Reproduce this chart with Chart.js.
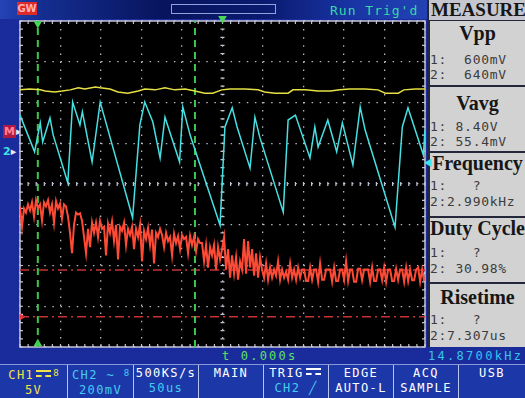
<!DOCTYPE html>
<html>
<head>
<meta charset="utf-8">
<title>scope capture</title>
<script src="https://cdn.jsdelivr.net/npm/chart.js@4.4.1/dist/chart.umd.min.js"></script>
<style>
  body{margin:0;width:525px;height:398px;overflow:hidden;position:relative;background:#1a2c9c;font-family:"DejaVu Sans Mono",monospace}
  .a{position:absolute;white-space:pre}
  #scope{position:absolute;left:0;top:0;z-index:5;pointer-events:none}
  #topbar{left:0;top:0;width:427px;height:19px;background:linear-gradient(90deg,#2444b6 0%,#142e90 10%,#08145e 38%,#0a1a6e 62%,#1834a4 82%,#2242b4 100%)}
  .box{left:430px;width:95px;background:#d2d2d2}
  .ttl{left:430px;width:95px;text-align:center;font:bold 20px "Liberation Serif",serif;line-height:22px;color:#161616}
  .val{left:430px;font-size:13px;letter-spacing:0.7px;line-height:15px;color:#3c3c3c}
  .btn{top:365px;height:33px;text-align:center;font-size:12px;letter-spacing:1.4px;line-height:15px;color:#fff;padding-top:1px;box-sizing:border-box;border-left:1px solid #b8c4f0}
  .dc{display:inline-block;width:15px;height:3px;border-top:2px solid currentColor;border-bottom:2px dashed currentColor;vertical-align:2px;margin:0 2px}
  .pr{font-size:9px;letter-spacing:0;vertical-align:3px}
</style>
</head>
<body>
<canvas id="scope" width="525" height="398"></canvas>

<div class="a" id="topbar"></div>
<div class="a" style="left:17px;top:2px;width:20px;height:13px;background:#dc2a2a;color:#ffb0b0;font:bold 10px 'DejaVu Sans';line-height:13px;text-align:center">GW</div>
<div class="a" style="left:171px;top:4px;width:103px;height:8px;border:1px solid #8ea2de"></div>
<div class="a" style="left:330px;top:3px;color:#3ad6a6;font-size:13px;letter-spacing:1px;line-height:15px">Run Trig'd</div>

<!-- left channel markers -->
<div class="a" style="left:3px;top:125px;font:bold 11px 'DejaVu Sans';line-height:13px"><span style="background:#b01a40;color:#ff8098;padding:0 1px">M</span><span style="color:#e8e8f0">▸</span></div>
<div class="a" style="left:3px;top:145px;font:bold 11px 'DejaVu Sans';line-height:13px"><span style="color:#40e0e8">2</span><span style="color:#e8e8f0">▸</span></div>

<!-- measure panel -->
<div class="a" style="left:427px;top:0;width:98px;height:347px;background:#24263a"></div>
<div class="a" style="left:429px;top:0;width:96px;height:20px;background:#c6c6ce;overflow:hidden"></div>
<div class="a ttl" style="top:-1px;left:431px;text-align:left;width:94px;overflow:hidden;font-size:19px">MEASURE</div>
<div class="a box" style="top:21px;height:64px"></div>
<div class="a box" style="top:87px;height:64px"></div>
<div class="a box" style="top:153px;height:63px"></div>
<div class="a box" style="top:218px;height:64px"></div>
<div class="a box" style="top:284px;height:63px"></div>
<div class="a ttl" style="top:22px">Vpp</div>
<div class="a val" style="top:52px">1:  600mV</div>
<div class="a val" style="top:67px">2:  640mV</div>
<div class="a ttl" style="top:92px">Vavg</div>
<div class="a val" style="top:119px">1: 8.40V</div>
<div class="a val" style="top:134px">2: 55.4mV</div>
<div class="a ttl" style="top:152px">Frequency</div>
<div class="a val" style="top:178px">1:   ?</div>
<div class="a val" style="top:194px">2:2.990kHz</div>
<div class="a ttl" style="top:217px">Duty Cycle</div>
<div class="a val" style="top:245px">1:   ?</div>
<div class="a val" style="top:261px">2: 30.98%</div>
<div class="a ttl" style="top:286px">Risetime</div>
<div class="a val" style="top:312px">1:   ?</div>
<div class="a val" style="top:328px">2:7.307us</div>

<!-- status line -->
<div class="a" style="left:222px;top:349px;color:#5ee05e;font-size:12px;letter-spacing:2.2px;line-height:14px">t 0.000s</div>
<div class="a" style="left:428px;top:349px;color:#34c4ec;font-size:12px;letter-spacing:2.3px;line-height:14px">14.8700kHz</div>

<!-- soft keys -->
<div class="a" style="left:0;top:364px;width:525px;height:34px;background:#1c38a8;border-top:1px solid #8898dc;box-sizing:border-box"></div>
<div class="a btn" style="left:0;width:67px;border-left:none;color:#f2e24a">CH1<span class="dc"></span><span class="pr">8</span><br>5V</div>
<div class="a btn" style="left:67px;width:66px;color:#44ccf2">CH2 ~ <span class="pr">8</span><br>200mV</div>
<div class="a btn" style="left:133px;width:65px">500KS/s<br><span style="color:#44ccf2">50us</span></div>
<div class="a btn" style="left:198px;width:65px">MAIN</div>
<div class="a btn" style="left:263px;width:65px">TRIG<span class="dc"></span><br><span style="color:#44ccf2">CH2 ╱</span></div>
<div class="a btn" style="left:328px;width:65px">EDGE<br>AUTO-L</div>
<div class="a btn" style="left:393px;width:65px">ACQ<br>SAMPLE</div>
<div class="a btn" style="left:458px;width:67px">USB</div>

<script>
// time base: 50 us/div, 10 div; vertical: 8 div
const timeMin = -250, timeMax = 250;
const divMin = -4, divMax = 4;

// CH1 (yellow), in divisions
const yellowT = [-250,-238,-225,-219,-207,-198,-188,-178,-170,-157,-151,-139,-129,-117,-104,-96,-83,-71,-59,-46,-34,-22,-12,-1,9,28,44,52,65,81,87,102,118,133,145,157,176,192,201,217,224,238,250];
const yellowV = [2.31,2.33,2.31,2.28,2.26,2.28,2.31,2.36,2.33,2.38,2.36,2.33,2.26,2.23,2.28,2.33,2.31,2.36,2.31,2.33,2.28,2.23,2.23,2.31,2.33,2.33,2.31,2.26,2.23,2.23,2.31,2.31,2.28,2.28,2.31,2.33,2.33,2.31,2.23,2.23,2.31,2.33,2.33];

// CH2 (cyan)
const cyanT = [-250,-232,-225,-222,-213,-209,-191,-185,-176,-173,-161,-151,-111,-102,-96,-86,-77,-71,-53,-49,-40,-3,3,12,18,34,40,46,75,81,90,108,114,118,130,141,148,161,170,176,213,222,229,248,250];
const cyanV = [1.69,0.79,1.50,1.03,1.62,1.20,0.03,2.01,1.45,1.77,0.54,2.01,-0.83,1.45,2.01,1.52,0.64,1.64,0.54,1.89,1.20,-1.01,1.40,1.87,1.40,0.39,1.64,1.15,-0.69,1.57,1.69,0.64,1.40,0.91,1.57,0.79,1.50,0.47,1.89,1.33,-1.06,1.40,1.87,0.71,1.33];

// red trace, one sample every redStep us from timeMin
const redStep = 2.47;
const redV = [
  -0.55,-1.05,-0.6,-0.7,-0.5,-0.65,
  -0.45,-0.8,-0.4,-0.6,-0.5,-0.9,-0.45,-0.55,-0.4,-0.7,-0.5,-0.95,-0.42,-0.6,-0.48,-0.85,-0.5,
  -0.55,-0.8,-1.2,-1.7,-1.0,-0.7,-0.75,-0.72,
  -0.9,-1.3,-1.7,-1.1,-1.55,-0.95,-1.2,
  -0.95,-1.3,-0.9,-1.1,-1.05,-1.75,-0.98,-1.2,-0.92,-1.4,-1.0,-1.85,-1.05,-1.15,-0.95,-1.5,-1.1,-1.25,
  -1.05,-1.6,-1.1,-1.3,-1.0,-1.9,-1.15,-1.35,-1.08,-1.5,-1.12,-1.95,-1.2,-1.3,-1.1,
  -1.25,-1.55,-1.2,-1.4,-1.3,-1.75,-1.22,-1.45,-1.28,-1.6,-1.25,-1.35,-1.3,-1.7,-1.27,-1.5,-1.3,-1.65,-1.35,-1.45,
  -1.45,-1.9,-1.5,-2.05,-1.55,-1.75,-1.5,-2.1,-1.55,-1.85,-1.6,
  -1.3,-2.1,-1.6,-2.3,-1.75,-2.2,-1.8,-2.35,-1.9,
  -2.1,-1.35,-2.2,-1.4,-2.05,-1.6,-2.25,-1.7,-2.3,-1.8,
  -2.1,-2.3,-1.95,-2.35,-2.05,-2.3,-2.1,-2.25,-1.9,-2.35,-2.1,-2.3,-2.15,-2.35,-1.95,-2.3,-2.1,-2.35,-2.05,-2.3,
  -2.1,-2.1,-2.38,-2.38,-2.05,-2.35,-2.1,-2.1,-2.4,-1.95,-2.35,-2.35,-2.1,-2.1,-2.1,-2.4,
  -2.05,-2.38,-2.38,-2.1,-2.1,-2.35,-1.9,-2.38,-2.1,-2.1,-2.4,-2.4,-2.08,-2.08,-2.36,-2.1,
  -2.1,-2.1,-2.4,-2.05,-2.38,-2.38,-2.1,-2.1,-2.36,-2.05,-2.4,-2.1,-2.1,-2.38,-2.38,-2.08,
  -2.35,-2.1,-2.1,-2.4,-2.05,-2.38,-2.1,-2.36,-2.36,-2.1,-2.05,-2.4,-2.1,-2.38
];

// cursors and markers
const cursorT = [-228, -34];
const triggerT = 0;
const trigLevel = 0.52;
const refLevels = [-2.11, -3.26];

const pts = (ts, vs) => ts.map((t, i) => ({x: t, y: vs[i]}));
const line = (data, color, extra) => Object.assign({data, borderColor: color, borderWidth: 1.5, pointRadius: 0, tension: 0, fill: false}, extra || {});
const marker = (data, color, rot) => ({data, showLine: false, pointStyle: 'triangle', pointRadius: 5, pointRotation: rot, backgroundColor: color, borderColor: color, borderWidth: 0, clip: false});

const datasets = [
  line(pts(cyanT, cyanV), '#46e0e2'),
  line(pts(yellowT, yellowV), '#e6e044'),
  line(redV.map((v, i) => ({x: timeMin + i * redStep, y: v})), '#ff4a36', {borderWidth: 2}),
  ...cursorT.map(t => line([{x: t, y: divMin}, {x: t, y: divMax}], '#3cc850', {borderWidth: 2, borderDash: [7, 5]})),
  ...refLevels.map(v => line([{x: timeMin, y: v}, {x: timeMax, y: v}], '#c83232', {borderDash: [9, 4, 2, 4]})),
  marker([{x: cursorT[0], y: 3.94}, {x: triggerT, y: 4.06}], '#48d858', 180),
  marker([{x: cursorT[0], y: -3.92}], '#48d858', 0),
  marker([{x: 255, y: trigLevel}], '#40e4ec', 270),
  Object.assign(marker([{x: timeMin + 2, y: refLevels[1]}], '#ff4040', 90), {pointRadius: 4})
];

const grat = {
  id: 'grat',
  beforeDraw(c) {
    const {ctx, chartArea: a} = c;
    ctx.save();
    ctx.fillStyle = '#000';
    ctx.fillRect(a.left, a.top, a.width, a.height);
    ctx.restore();
  },
  beforeDatasetsDraw(c) {
    const {ctx, chartArea: a, scales: {x, y}} = c;
    const x0 = x.getPixelForValue(0), y0 = y.getPixelForValue(0);
    ctx.save();
    ctx.strokeStyle = '#c4c4d6';
    ctx.lineWidth = 1.2;
    ctx.beginPath();
    for (let k = 0; k <= 50; k++) {
      const px = x.getPixelForValue(timeMin + k * 10);
      ctx.moveTo(px, a.top); ctx.lineTo(px, a.top + 3);
      ctx.moveTo(px, a.bottom); ctx.lineTo(px, a.bottom - 3);
      ctx.moveTo(px, y0 - 2); ctx.lineTo(px, y0 + 2);
    }
    for (let k = 0; k <= 40; k++) {
      const py = y.getPixelForValue(divMin + k * 0.2);
      ctx.moveTo(a.left, py); ctx.lineTo(a.left + 3, py);
      ctx.moveTo(a.right, py); ctx.lineTo(a.right - 3, py);
      ctx.moveTo(x0 - 2, py); ctx.lineTo(x0 + 2, py);
    }
    ctx.stroke();
    ctx.lineWidth = 1.5;
    ctx.strokeRect(a.left, a.top, a.width, a.height);
    ctx.restore();
  }
};

const gridOpts = {color: 'rgba(200,200,215,0.9)', lineWidth: 1.3, drawTicks: false};

new Chart(document.getElementById('scope'), {
  type: 'line',
  data: {datasets},
  options: {
    responsive: false,
    animation: false,
    devicePixelRatio: 1,
    layout: {padding: {left: 20, top: 21, right: 100, bottom: 51}},
    plugins: {legend: {display: false}, tooltip: {enabled: false}},
    scales: {
      x: {type: 'linear', min: timeMin, max: timeMax, ticks: {display: false, stepSize: 50}, grid: gridOpts, border: {display: false, dash: [1.5, 6.6]}},
      y: {type: 'linear', min: divMin, max: divMax, ticks: {display: false, stepSize: 1}, grid: gridOpts, border: {display: false, dash: [1.5, 6.6]}}
    }
  },
  plugins: [grat]
});
</script>
</body>
</html>
